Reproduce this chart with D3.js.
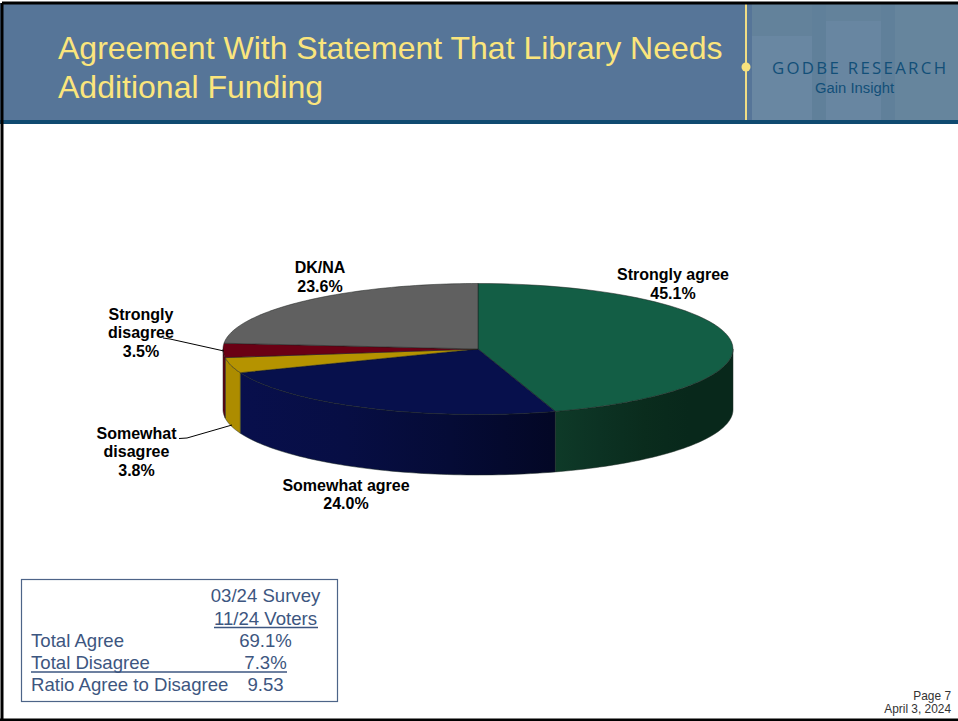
<!DOCTYPE html>
<html>
<head>
<meta charset="utf-8">
<script src="https://cdn.jsdelivr.net/npm/d3@7"></script>
<style>
  html, body { margin: 0; padding: 0; background: #fff; }
  svg { display: block; }
  text { font-family: "Liberation Sans", Arial, sans-serif; }
</style>
</head>
<body>
<svg id="slide" width="958" height="721"></svg>
<script>
// Survey responses, clockwise from twelve o'clock
const categories = ["Strongly agree", "Somewhat agree", "Somewhat disagree", "Strongly disagree", "DK/NA"];
const shares = [45.1, 24.0, 3.8, 3.5, 23.6];
const topColors = ["#135e45", "#07104c", "#b59300", "#6a0014", "#606060"];
const sideStops = [
  ["#0e3a28", "#0c3223", "#0a2c1d", "#08281b", "#08281b"],
  ["#080f4c", "#070e44", "#050b36", "#030725"],
  ["#ad8c00", "#ad8c00"],
  ["#6a0014", "#5a0011"],
  ["#505050", "#505050"]
];

// Label text lines, anchor points and leader lines
const labelLines = [
  ["Strongly agree", "45.1%"],
  ["Somewhat agree", "24.0%"],
  ["Somewhat", "disagree", "3.8%"],
  ["Strongly", "disagree", "3.5%"],
  ["DK/NA", "23.6%"]
];
const labelX = [673, 346, 136.5, 141, 320];
const labelTop = [280, 490.5, 438.5, 319.5, 273];
const leaders = [
  [[179, 438.5], [187, 438], [232, 425]],
  [[163, 338], [170, 339], [224, 351]]
];

// Summary table
const tableHead = ["03/24 Survey", "11/24 Voters"];
const tableLabels = ["Total Agree", "Total Disagree", "Ratio Agree to Disagree"];
const tableValues = ["69.1%", "7.3%", "9.53"];

const titleLines = ["Agreement With Statement That Library Needs", "Additional Funding"];
const footer = ["Page 7", "April 3, 2024"];

const svg = d3.select("#slide");
const defs = svg.append("defs");

// Page frame and header band
svg.append("rect").attr("width", 958).attr("height", 721).attr("fill", "#fff");
const header = svg.append("g");
header.append("rect").attr("x", 0).attr("y", 3).attr("width", 958).attr("height", 118).attr("fill", "#567598");

// Muted building backdrop behind the logo
const backdrop = [
  [752, 4, 206, 117, "#63829b"],
  [752, 36, 60, 85, "#6987a2"],
  [812, 4, 14, 117, "#60809a"],
  [826, 21, 55, 100, "#6886a1"],
  [881, 4, 14, 117, "#60809a"],
  [895, 4, 63, 117, "#66859d"]
];
header.selectAll("rect.backdrop").data(backdrop).join("rect")
  .attr("class", "backdrop")
  .attr("x", d => d[0]).attr("y", d => d[1])
  .attr("width", d => d[2]).attr("height", d => d[3])
  .attr("fill", d => d[4]);

header.append("rect").attr("x", 745).attr("y", 4).attr("width", 2).attr("height", 117).attr("fill", "#f1dd85");
header.append("circle").attr("cx", 746).attr("cy", 67).attr("r", 4.5).attr("fill", "#f9e27d");
header.append("rect").attr("x", 0).attr("y", 120).attr("width", 958).attr("height", 4).attr("fill", "#0f4a70");

header.selectAll("text.title").data(titleLines).join("text")
  .attr("class", "title")
  .attr("x", 58)
  .attr("y", (d, i) => 59 + i * 39)
  .attr("font-size", 32)
  .attr("fill", "#fbe57c")
  .text(d => d);

header.append("text").attr("x", 772).attr("y", 74)
  .style("font-family", "Open Sans")
  .attr("font-size", 16.8).attr("fill", "#124f78")
  .attr("textLength", 174).attr("lengthAdjust", "spacing")
  .text("GODBE RESEARCH");
header.append("text").attr("x", 815).attr("y", 93)
  .attr("font-size", 15.5).attr("fill", "#124f78")
  .attr("textLength", 79).attr("lengthAdjust", "spacingAndGlyphs")
  .text("Gain Insight");

// Outer black frame
svg.append("path")
  .attr("d", "M2,3H958M2,3V720M0,720H958")
  .attr("fill", "none").attr("stroke", "#000").attr("stroke-width", 3);

// Pie geometry: a flattened disc with an extruded rim
const cx = 478, cy = 349, rx = 255, ry = 65.5, depth = 60.5;
const px = d3.scaleLinear().domain([-1, 1]).range([cx - rx, cx + rx]);
const py = d3.scaleLinear().domain([-1, 1]).range([cy - ry, cy + ry]);

const pie = d3.pie().sort(null).value(d => d)(shares);

const rimPoint = (a, drop) => [px(Math.sin(a)), py(-Math.cos(a)) + drop];
const samples = (a0, a1) => d3.range(0, 61).map(i => a0 + (a1 - a0) * i / 60);
const lineGen = d3.line();

const chart = svg.append("g");

// Rim: only the front half of the ellipse is visible (angles between 90 and 270 degrees)
pie.forEach((s, i) => {
  const a0 = Math.max(s.startAngle, Math.PI / 2);
  const a1 = Math.min(s.endAngle, 1.5 * Math.PI);
  if (a1 <= a0) return;
  const gradId = "side" + i;
  const x0 = rimPoint(a0, 0)[0], x1 = rimPoint(a1, 0)[0];
  const stops = sideStops[i];
  defs.append("linearGradient").attr("id", gradId)
    .attr("gradientUnits", "userSpaceOnUse")
    .attr("x1", x1).attr("x2", x0).attr("y1", 0).attr("y2", 0)
    .selectAll("stop").data(stops).join("stop")
    .attr("offset", (d, k) => k / (stops.length - 1))
    .attr("stop-color", d => d);
  const upper = samples(a0, a1).map(a => rimPoint(a, 0));
  const lower = samples(a1, a0).map(a => rimPoint(a, depth));
  chart.append("path")
    .attr("d", lineGen(upper.concat(lower)) + "Z")
    .attr("fill", `url(#${gradId})`)
    .attr("stroke", "#1c2a24").attr("stroke-width", 0.5);
});

// Top face, drawn as wedges in the flattened projection
pie.forEach((s, i) => {
  const arcPts = samples(s.startAngle, s.endAngle).map(a => rimPoint(a, 0));
  chart.append("path")
    .attr("d", lineGen([[cx, cy]].concat(arcPts)) + "Z")
    .attr("fill", topColors[i])
    .attr("stroke", "#1a1f1d").attr("stroke-width", 0.5)
    .attr("stroke-linejoin", "round");
});

// Slice labels
const labels = svg.append("g");
labelLines.forEach((lines, i) => {
  labels.append("g").selectAll("text").data(lines).join("text")
    .attr("x", labelX[i])
    .attr("y", (d, k) => labelTop[i] + k * 18.6)
    .attr("text-anchor", "middle")
    .attr("font-size", 16)
    .attr("font-weight", "bold")
    .attr("fill", "#000")
    .text(d => d);
});
labels.selectAll("path.leader").data(leaders).join("path")
  .attr("class", "leader")
  .attr("d", lineGen)
  .attr("fill", "none").attr("stroke", "#000").attr("stroke-width", 1);

// Summary box
const tableInk = "#3d5680";
const box = svg.append("g");
box.append("rect").attr("x", 21.5).attr("y", 579.5).attr("width", 316).attr("height", 122)
  .attr("fill", "#fff").attr("stroke", "#4d6488").attr("stroke-width", 1.2);
box.selectAll("text.head").data(tableHead).join("text")
  .attr("class", "head")
  .attr("x", 265.5).attr("y", (d, i) => 602 + i * 23)
  .attr("text-anchor", "middle").attr("font-size", 18.6).attr("fill", tableInk)
  .text(d => d);
box.selectAll("text.rowLabel").data(tableLabels).join("text")
  .attr("class", "rowLabel")
  .attr("x", 31).attr("y", (d, i) => 647 + i * 22)
  .attr("font-size", 18.6).attr("fill", tableInk)
  .text(d => d);
box.selectAll("text.rowValue").data(tableValues).join("text")
  .attr("class", "rowValue")
  .attr("x", 265.5).attr("y", (d, i) => 647 + i * 22)
  .attr("text-anchor", "middle").attr("font-size", 18.6).attr("fill", tableInk)
  .text(d => d);
box.append("line").attr("x1", 214).attr("x2", 318).attr("y1", 627.5).attr("y2", 627.5)
  .attr("stroke", tableInk).attr("stroke-width", 1.5);
box.append("line").attr("x1", 31).attr("x2", 287).attr("y1", 672).attr("y2", 672)
  .attr("stroke", tableInk).attr("stroke-width", 1.5);

// Page footer
svg.selectAll("text.foot").data(footer).join("text")
  .attr("class", "foot")
  .attr("x", 951).attr("y", (d, i) => 700 + i * 12.5)
  .attr("text-anchor", "end").attr("font-size", 11.9).attr("fill", "#333")
  .text(d => d);
</script>
</body>
</html>
